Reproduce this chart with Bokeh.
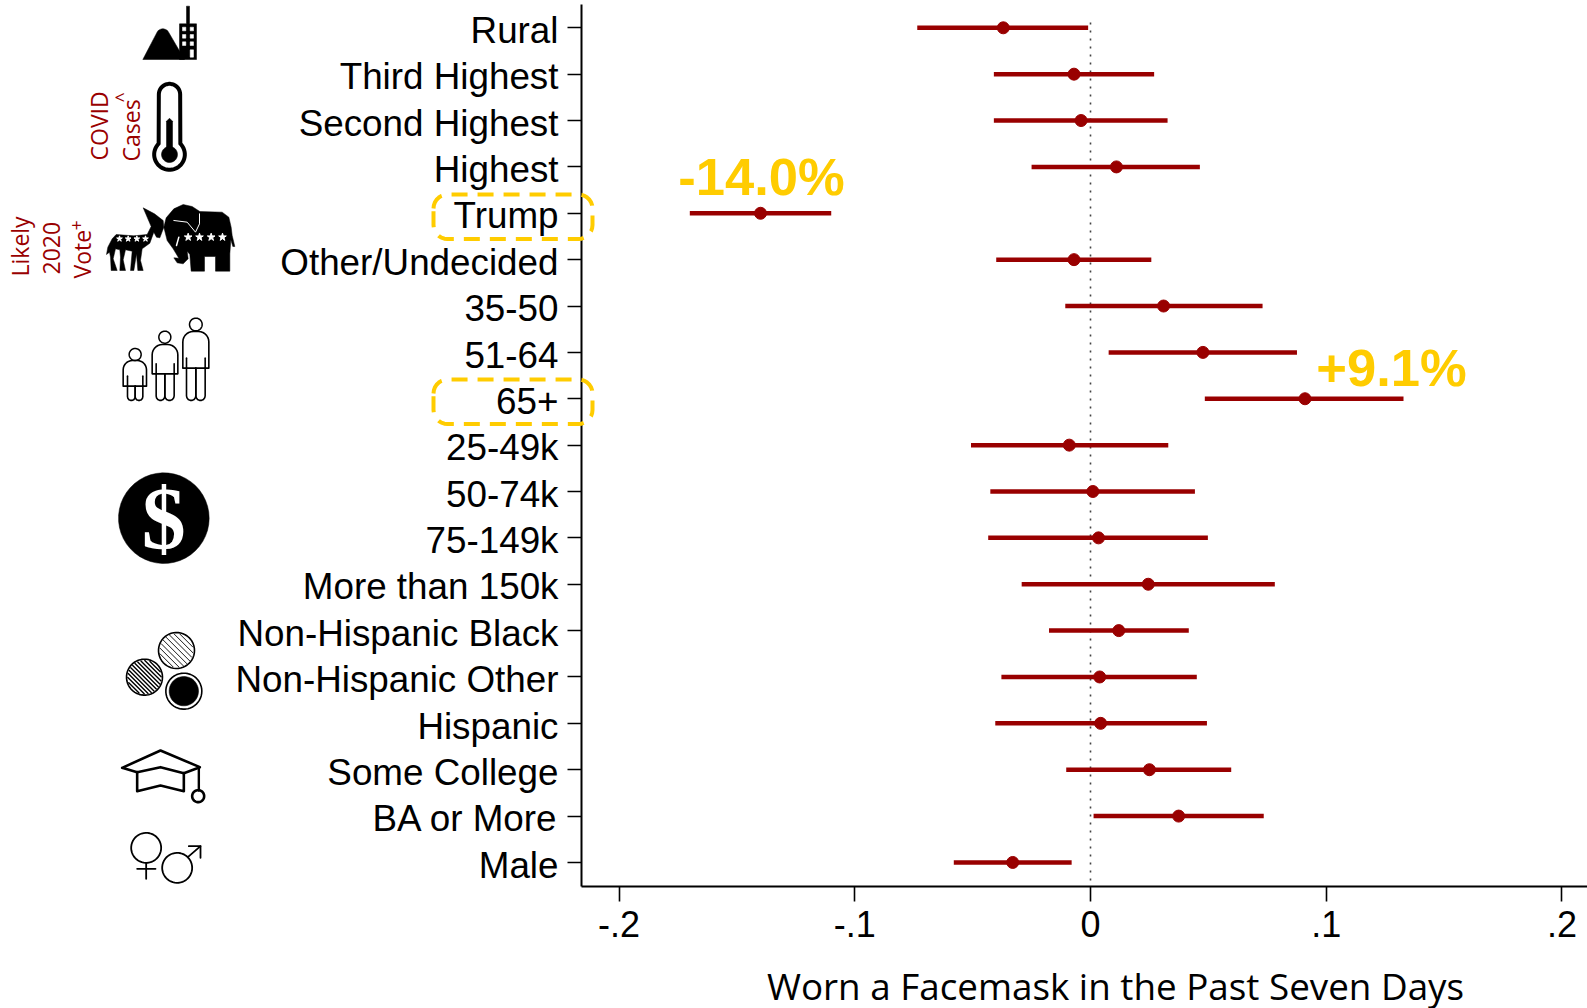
import numpy as np
from bokeh.embed import file_html
from bokeh.resources import INLINE
from bokeh.plotting import figure
from bokeh.layouts import row
from bokeh.core.properties import value
from bokeh.models import Range1d, LinearAxis, FixedTicker, ColumnDataSource, Label

labels = ["Rural", "Third Highest", "Second Highest", "Highest", "Trump", "Other/Undecided",
          "35-50", "51-64", "65+", "25-49k", "50-74k", "75-149k", "More than 150k",
          "Non-Hispanic Black", "Non-Hispanic Other", "Hispanic", "Some College",
          "BA or More", "Male"]
lower = [-.0735, -.041, -.041, -.025, -.170, -.040, -.0107, .0077, .0485, -.0507, -.0425,
         -.0434, -.0292, -.0176, -.0378, -.0404, -.0103, .0013, -.058]
point = [-.037, -.007, -.004, .011, -.140, -.007, .031, .0477, .091, -.009, .001, .0034,
         .0245, .012, .0039, .0043, .025, .0374, -.033]
upper = [-.001, .027, .0327, .0464, -.110, .0258, .073, .0876, .1328, .033, .0443, .0498,
         .0782, .0417, .0451, .0494, .0597, .0735, -.008]
x_ticks = [-.2, -.1, 0, .1, .2]
x_tick_labels = ["-.2", "-.1", "0", ".1", ".2"]
x_title = "Worn a Facemask in the Past Seven Days"
callout_left, callout_right = "-14.0%", "+9.1%"

RED = "#990000"
GOLD = "#FFCC00"
SANS = "Liberation Sans"

# page-pixel geometry of the chart frame
X0, PXU = 1090.0, 2357.0          # x of zero, pixels per unit
R0, PXR = 27.3, 46.37             # y of first row, pixels per row
STRIP = 238
FL, FR, FT, FB = 581.0, 1587.0, 4.0, 886.0


def ux(px):
    return (px - X0) / PXU


def ur(py):
    return (py - R0) / PXR


def arc(cx, cy, r, a0=0, a1=360, n=48):
    t = np.radians(np.linspace(a0, a1, n))
    return np.column_stack([cx + r * np.cos(t), cy + r * np.sin(t)]).tolist()


def overlay(left, top, width, height, z):
    """Transparent figure whose data coordinates are page pixels."""
    f = figure(width=width, height=height, output_backend="svg", toolbar_location=None,
               x_range=Range1d(left, left + width), y_range=Range1d(top + height, top),
               x_axis_location=None, y_axis_location=None, min_border=0, min_border_left=0,
               min_border_right=0, min_border_top=0, min_border_bottom=0,
               background_fill_alpha=0, border_fill_alpha=0,
               styles={"position": "absolute", "left": f"{left}px", "top": f"{top}px",
                       "z-index": str(z)})
    f.frame_align = False
    f.outline_line_color = None
    f.grid.visible = False
    return f


rows = list(range(len(labels)))
source = ColumnDataSource(dict(lo=lower, pt=point, hi=upper, r=rows))

p = figure(width=int(FR), height=1008, output_backend="svg", toolbar_location=None,
           x_range=Range1d(ux(FL), ux(FR)), y_range=Range1d(ur(FB), ur(FT)),
           x_axis_location="below", y_axis_location=None,
           min_border_left=int(FL), min_border_right=0, min_border_top=int(FT),
           min_border_bottom=int(1008 - FB), background_fill_color="white")
p.frame_align = False
p.outline_line_color = None
p.grid.visible = False

p.segment(x0=[0], x1=[0], y0=[ur(22)], y1=[ur(FB)], line_color="#444444", line_width=1.6,
          line_dash="2 6")
p.segment("lo", "r", "hi", "r", source=source, line_color=RED, line_width=4.5)
p.scatter("pt", "r", source=source, size=12, color=RED)

# x axis
xa = p.xaxis[0]
xa.ticker = FixedTicker(ticks=x_ticks)
xa.major_label_overrides = dict(zip(x_ticks, x_tick_labels))
xa.major_label_text_font = SANS
xa.major_label_text_font_size = "36px"
xa.major_label_text_color = "black"
xa.major_tick_in = 0
xa.major_tick_out = 15
xa.minor_tick_line_color = None
xa.major_tick_line_width = 1.6
xa.major_tick_line_color = "black"
xa.axis_line_width = 2
xa.axis_line_color = "black"
xa.major_label_standoff = 9

# y axis: ticks on the frame, labels on a slightly offset range (labels sit just below ticks)
ya = LinearAxis(ticker=FixedTicker(ticks=rows), major_tick_in=0, major_tick_out=14,
                minor_tick_line_color=None, major_tick_line_width=1.6, axis_line_width=2,
                major_label_text_font_size="1px", major_label_text_color=None,
                major_label_standoff=0, major_tick_line_color="black", axis_line_color="black")
p.add_layout(ya, "left")
shift = 2.7 / PXR
p.extra_y_ranges["lab"] = Range1d(ur(FB) - shift, ur(FT) - shift)
yl = LinearAxis(y_range_name="lab", ticker=FixedTicker(ticks=rows),
                major_label_overrides=dict(zip(rows, labels)),
                axis_line_color=None, major_tick_line_color=None, minor_tick_line_color=None,
                major_label_text_font=SANS, major_label_text_font_size="36.8px",
                major_label_text_color="black", major_label_standoff=3)
p.add_layout(yl, "left")

# callouts
p.add_layout(Label(x=ux(761), y=ur(176), text=callout_left, text_align="center",
                   text_baseline="middle", text_font=SANS, text_font_style="bold",
                   text_font_size="52.5px", text_color=GOLD))
p.add_layout(Label(x=ux(1391), y=ur(366.5), text=callout_right, text_align="center",
                   text_baseline="middle", text_font=SANS, text_font_style="bold",
                   text_font_size="52.5px", text_color=GOLD))

# x title, off-centre below the axis, in its own transparent strip
ot = overlay(700, 958, 840, 50, 3)
ot.text([1115], [985.7], text=[x_title], text_align="center", text_baseline="middle",
        text_font=value("Open Sans"), text_font_size="36.8px", text_color="black")

# ---------------- icon strip ----------------
ic = overlay(0, 0, STRIP, 1008, 4)


def z1(pts):          # zoom of the upper icons
    a = np.array(pts, float) / 3
    return a[:, 0].tolist(), a[:, 1].tolist()


def z2(pts):          # zoom of the lower icons
    a = np.array(pts, float) / 3 + [100, 450]
    return a[:, 0].tolist(), a[:, 1].tolist()


def fill(f, pts, color="black"):
    xs, ys = f(pts)
    ic.patch(xs, ys, fill_color=color, line_color=color, line_width=0.5)


def stroke(f, pts, w=2.0, color="black"):
    xs, ys = f(pts)
    ic.line(xs, ys, line_color=color, line_width=w, line_join="round", line_cap="round")


def dot(f, cx, cy, r, color="black"):
    fill(f, arc(cx, cy, r), color)


# mountain and tower
fill(z1, [(427, 177)] + arc(487, 105, 20, 215, 325, 10) + [(552, 177)])
fill(z1, [(537, 177), (537, 70), (558, 70), (558, 17), (567, 17), (567, 70), (588, 70), (588, 177)])
for wy in (80, 102, 124):
    for wx in (546, 569):
        fill(z1, [(wx, wy), (wx + 10, wy), (wx + 10, wy + 11), (wx, wy + 11)], "white")
fill(z1, [(569, 148), (579, 148), (579, 170), (569, 170)], "white")

# thermometer
stroke(z1, arc(507, 282, 32, 180, 360, 20) + arc(507, 462, 46, -45, 225, 40) + [(475, 282)], 4)
dot(z1, 507, 462, 24)
fill(z1, [(498, 462), (498, 362), (507, 353), (516, 362), (516, 462)])

# donkey
fill(z1, [(318, 762), (322, 740), (335, 715), (347, 702), (400, 706), (440, 702), (452, 678),
          (428, 622), (462, 640), (488, 660), (490, 680), (478, 712), (468, 710), (460, 695),
          (448, 728), (425, 745), (420, 780), (428, 810), (412, 810), (408, 760), (400, 810),
          (390, 810), (395, 752), (375, 748), (368, 778), (375, 810), (358, 810), (360, 770),
          (358, 748), (345, 745), (338, 775), (350, 810), (332, 810), (330, 770), (327, 755)])
# elephant
fill(z1, [(490, 680), (497, 652), (520, 625), (548, 612), (575, 618), (598, 633), (665, 635),
          (685, 650), (692, 680), (695, 705), (703, 738), (697, 738), (691, 718), (688, 760),
          (688, 812), (645, 812), (645, 768), (612, 768), (612, 812), (572, 812), (568, 762),
          (560, 752), (563, 775), (548, 790), (530, 787), (520, 772), (535, 773), (518, 745),
          (500, 720)])
stroke(z1, [(520, 660), (560, 665), (585, 695), (597, 670), (597, 640)], 1.0, "white")
stroke(z1, [(528, 735), (535, 710)], 1.5, "white")
a = np.array([(357, 715), (383, 715), (409, 715), (435, 715)]) / 3
ic.scatter(a[:, 0], a[:, 1], marker="star", size=6, color="white")
a = np.array([(563, 710), (597, 710), (632, 710), (666, 710)]) / 3
ic.scatter(a[:, 0], a[:, 1], marker="star", size=8, color="white")


# three people
def person(cx, hy, hr, x0, x1, top, bot, lx0, lx1, foot):
    stroke(z1, arc(cx, hy, hr), 1.5)
    r = (x1 - x0) / 2 * 0.8
    body = (arc(x0 + r, top + r, r, 180, 270, 8) + arc(x1 - r, top + r, r, 270, 360, 8)
            + [(x1, bot), (x0, bot), (x0, top + r)])
    stroke(z1, body, 1.6)
    for a0, a1 in [(lx0, cx), (cx, lx1)]:
        m = (a0 + a1) / 2
        hw = (a1 - a0) / 2
        stroke(z1, [(a0, bot), (a0, foot - hw)] + arc(m, foot - hw, hw, 180, 0, 8)
               + [(a1, bot)], 1.6)
    stroke(z1, [(lx0, bot), (lx0, bot - 30)], 1.6)
    stroke(z1, [(lx1, bot), (lx1, bot - 30)], 1.6)


person(404, 1062, 18, 368, 438, 1080, 1157, 381, 427, 1200)
person(493, 1010, 18, 455, 532, 1032, 1120, 467, 521, 1200)
person(586, 972, 19, 547, 625, 993, 1103, 558, 614, 1200)

# dollar coin
dot(z2, 190, 203, 136)
cx, cy = 100 + 190 / 3, 450 + 203 / 3
ic.text([cx], [cy], text=["$"], text_align="center", text_baseline="middle",
        text_font=value("Liberation Serif"), text_font_style="bold",
        text_font_size="88px", text_color="white")


# race circles
def hatched(cx0, cy0, r, step, w):
    stroke(z2, arc(cx0, cy0, r), 1.6)
    for d in np.arange(-r + step, r, step):
        h = np.sqrt((r - 4) ** 2 - d ** 2) if abs(d) < r - 4 else 0
        if h > 0:
            ux0, uy0 = np.array([1, 1]) / np.sqrt(2)
            nx, ny = -uy0, ux0
            stroke(z2, [(cx0 + nx * d - ux0 * h, cy0 + ny * d - uy0 * h),
                        (cx0 + nx * d + ux0 * h, cy0 + ny * d + uy0 * h)], w)


hatched(228, 600, 54, 12, 0.9)
hatched(132, 680, 54, 9, 1.4)
stroke(z2, arc(250, 722, 54), 1.6)
dot(z2, 250, 722, 44)

# graduation cap
stroke(z2, [(65, 952), (180, 900), (298, 950), (250, 968), (180, 950), (110, 965), (65, 952)], 2.6)
stroke(z2, [(110, 965), (110, 1022), (180, 1005), (250, 1022), (250, 968)], 2.6)
stroke(z2, [(295, 950), (295, 1020)], 2.4)
stroke(z2, arc(293, 1037, 18), 2.6)

# gender symbols
stroke(z2, arc(137, 1192, 45), 1.8)
stroke(z2, [(137, 1237), (137, 1285)], 1.8)
stroke(z2, [(110, 1255), (165, 1255)], 1.8)
stroke(z2, arc(230, 1252, 45), 1.8)
stroke(z2, [(262, 1220), (300, 1187)], 1.8)
stroke(z2, [(265, 1187), (300, 1187), (300, 1222)], 1.8)


# rotated group captions
def caption(t, x, y, size=23):
    ic.text([x], [y], text=[t], angle=np.pi / 2, text_align="left", text_baseline="middle",
            text_font=value("Open Sans"), text_font_size=f"{size}px", text_color=RED)


caption("COVID", 98.5, 160)
caption("Cases", 130, 161)
caption("^", 121, 102, 18)
caption("Likely", 19, 276)
caption("2020", 50.5, 274)
caption("Vote", 81.7, 278)
caption("+", 75.5, 230, 18)

# ---------------- dashed boxes, which straddle the axis ----------------
ov = overlay(425, 185, 175, 245, 5)
for t, b in [(194, 238.5), (379, 423.5)]:
    l, r_, rad = 433, 592, 14
    box = np.array(arc(l + rad, t + rad, rad, 180, 270, 8) + arc(r_ - rad, t + rad, rad, 270, 360, 8)
                   + arc(r_ - rad, b - rad, rad, 0, 90, 8) + arc(l + rad, b - rad, rad, 90, 180, 8)
                   + [(l, t + rad)])
    ov.line(box[:, 0], box[:, 1], line_color=GOLD, line_width=4, line_dash="16 10")

layout = row(p, ic, ov, ot, spacing=0)
open("out.html", "w").write(file_html(layout, INLINE))
